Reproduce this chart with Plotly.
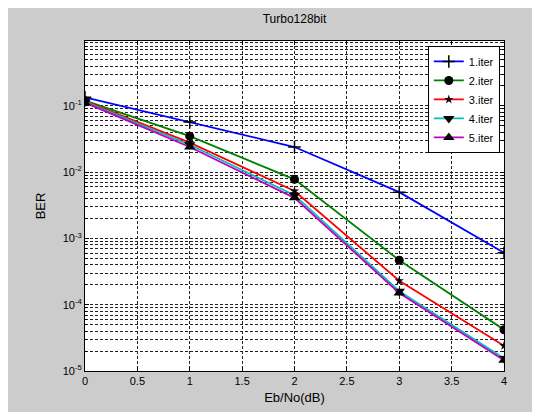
import plotly.graph_objects as go

ebno = [0, 1, 2, 3, 4]
iter1 = [0.135, 0.057, 0.024, 0.0050, 6.1e-4]
iter2 = [0.120, 0.035, 0.0078, 4.7e-4, 4.2e-5]
iter3 = [0.118, 0.028, 0.0052, 2.3e-4, 2.4e-5]
iter4 = [0.115, 0.026, 0.0045, 1.6e-4, 1.55e-5]
iter5 = [0.112, 0.024, 0.0041, 1.5e-4, 1.45e-5]
names = ["1.iter", "2.iter", "3.iter", "4.iter", "5.iter"]
colors = ["#0000ff", "#008000", "#ff0000", "#00bfbf", "#bf00bf"]
symbols = ["cross-thin", "circle", "star", "triangle-down", "triangle-up"]
sizes = [9, 9, 7, 10, 10]
series = [iter1, iter2, iter3, iter4, iter5]

y_major = [1e-5, 1e-4, 1e-3, 1e-2, 1e-1]
y_labels = ["10<sup>-5</sup>", "10<sup>-4</sup>", "10<sup>-3</sup>",
            "10<sup>-2</sup>", "10<sup>-1</sup>"]
y_minor = [m * 10 ** e for e in range(-5, 0) for m in range(2, 10)]
x_ticks = [0, 0.5, 1, 1.5, 2, 2.5, 3, 3.5, 4]
x_labels = ["0", "0.5", "1", "1.5", "2", "2.5", "3", "3.5", "4"]

fig = go.Figure()
for name, vals, c, s, sz in zip(names, series, colors, symbols, sizes):
    fig.add_trace(go.Scatter(
        x=ebno, y=vals, name=name, mode="lines+markers",
        line=dict(color=c, width=1.8),
        marker=dict(symbol=s, size=sz, color="black",
                    line=dict(color="black", width=1.5 if s == "cross-thin" else 0)),
    ))

gcol = "#222222"
grid = dict(gridcolor=gcol, griddash="3px,2px", gridwidth=0.8)
fig.update_layout(
    width=540, height=412,
    paper_bgcolor="#cccccc", plot_bgcolor="white",
    margin=dict(l=77, r=44, t=33, b=49),
    font=dict(family="Liberation Sans, Arial, sans-serif", size=11, color="black"),
    title=dict(text="Turbo128bit", x=0.5, xref="paper", xanchor="center",
               y=0.985, yanchor="top", font=dict(size=12)),
    showlegend=True,
    legend=dict(x=0.99, y=0.985, xanchor="right", yanchor="top",
                bgcolor="white", bordercolor="black", borderwidth=1,
                font=dict(size=11), tracegroupgap=0, itemwidth=30),
    xaxis=dict(range=[0, 4], tickvals=x_ticks, ticktext=x_labels,
               showgrid=True, **grid,
               zeroline=False, showline=True, linecolor="black", linewidth=1,
               mirror="ticks", ticks="inside", ticklen=4, tickcolor="black",
               title=dict(text="Eb/No(dB)", standoff=6)),
    yaxis=dict(type="log", range=[-5, -0.02], tickvals=y_major, ticktext=y_labels,
               showgrid=True, **grid,
               minor=dict(tickvals=y_minor, showgrid=True, gridcolor=gcol,
                          griddash="3px,2px", gridwidth=0.8, ticks="inside",
                          ticklen=2, tickcolor="black"),
               zeroline=False, showline=True, linecolor="black", linewidth=1,
               mirror="ticks", ticks="inside", ticklen=4, tickcolor="black",
               title=dict(text="BER", standoff=14)),
)
fig.write_html("out.html")
